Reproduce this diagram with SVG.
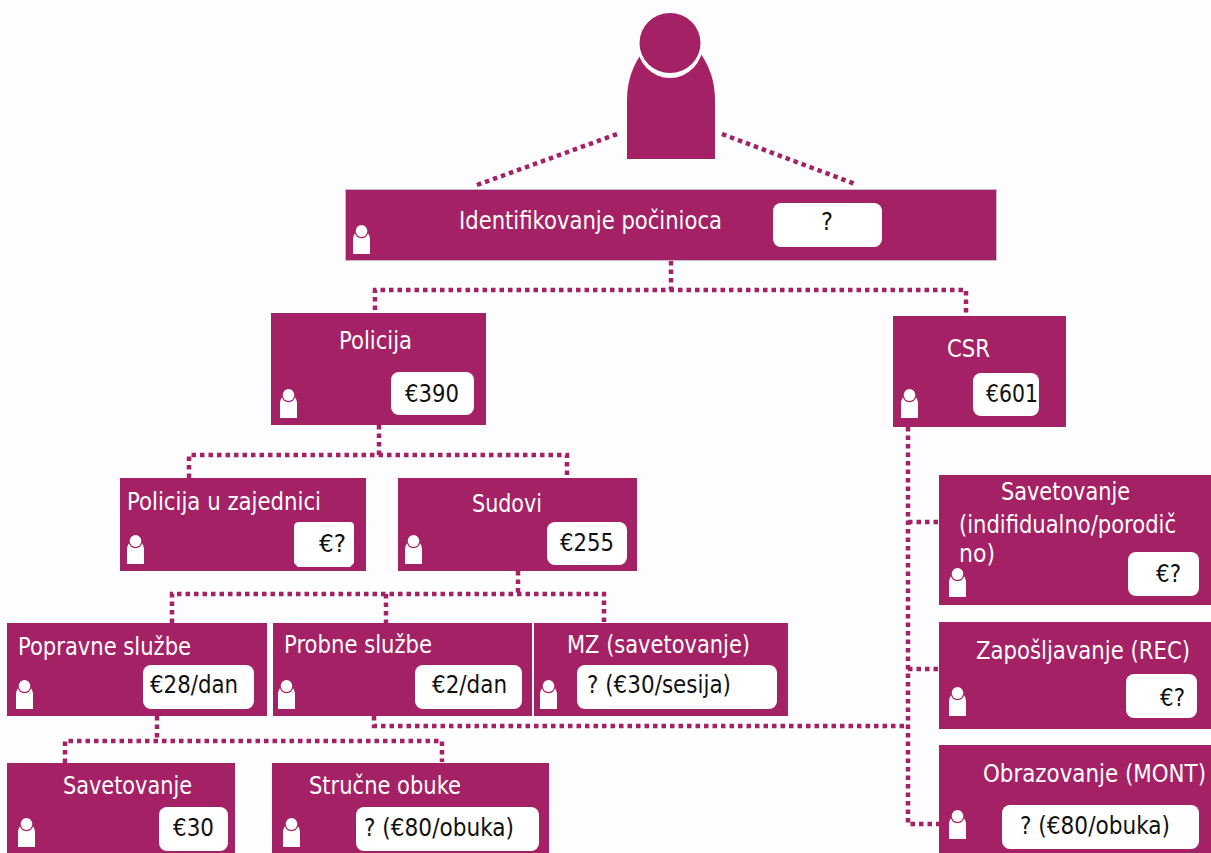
<svg xmlns="http://www.w3.org/2000/svg" width="1211" height="853" viewBox="0 0 1211 853">
<style>
.n{fill:#a52166}
.w{fill:#fff}
.c{fill:none;stroke:#a52166;stroke-width:4.500;stroke-dasharray:4.500 4}
text{font-family:"DejaVu Sans","Noto Sans",sans-serif;font-size:24px}
.l{fill:#fff}
.v{fill:#111}
.t{font-size:20px}
</style>
<defs>
<g id="p"><path class="w" d="M0 29V15Q0 10 3 7H14Q17 10 17 15V29Z"/><ellipse cx="8.500" cy="6.300" rx="6.800" ry="7" class="n"/><ellipse cx="8.500" cy="6" rx="5.800" ry="6" fill="#fff"/></g>
</defs>
<rect width="1211" height="853" fill="#fdfdff"/>
<g id="connectors">
<path class="c" d="M477 185L620 133M722 134L855 184"/>
<path class="c" d="M671 261V290M375 310V290H966V316"/>
<path class="c" d="M379 425V455M189 478V455H567V475"/>
<path class="c" d="M518 571V594M172 623V594H604V623M386 594V623"/>
<path class="c" d="M374 716V726H908"/>
<path class="c" d="M157 716V741M65 763V741H442V762"/>
<path class="c" d="M908 427V824H939M908 522H939M908 669H939"/>
</g>
<g id="perpetrator"><path class="n" d="M627 159V100Q627 72 644 50L698 50Q715 72 715 100V159Z"/><ellipse cx="670" cy="44" rx="33" ry="34" fill="#fff"/><ellipse cx="670" cy="43" rx="30.500" ry="30" class="n"/></g>
<g id="n1"><rect x="345.500" y="189.500" width="651" height="71" class="n" stroke="#c8b8d4"/><use href="#p" x="353" y="225"/><text class="l" x="459" y="229" textLength="263" lengthAdjust="spacingAndGlyphs">Identifikovanje počinioca</text><rect x="773" y="203" width="109" height="44" rx="8" class="w"/><text class="v" x="821" y="230" textLength="12" lengthAdjust="spacingAndGlyphs">?</text></g>
<g id="n2"><rect x="271" y="313" width="215" height="112" class="n"/><use href="#p" x="280" y="389"/><text class="l" x="339" y="349" textLength="73" lengthAdjust="spacingAndGlyphs">Policija</text><rect x="391" y="372" width="83" height="43" rx="8" class="w"/><text class="v" x="405" y="402" textLength="54" lengthAdjust="spacingAndGlyphs">€390</text></g>
<g id="n3"><rect x="893" y="316" width="173" height="111" class="n"/><use href="#p" x="901" y="389"/><text class="l" x="947" y="357" textLength="43" lengthAdjust="spacingAndGlyphs">CSR</text><rect x="973" y="373" width="66" height="43" rx="8" class="w"/><text class="v" x="986" y="402" textLength="52" lengthAdjust="spacingAndGlyphs">€601</text></g>
<g id="n4"><rect x="120" y="478" width="246" height="93" class="n"/><use href="#p" x="127" y="535"/><text class="l" x="127" y="510" textLength="194" lengthAdjust="spacingAndGlyphs">Policija u zajednici</text><path class="w" d="M299 522H350Q354 522 354 526V563L350 567H298L294 563V527Q294 522 299 522Z"/><text class="v" x="319" y="552" textLength="27" lengthAdjust="spacingAndGlyphs">€?</text></g>
<g id="n5"><rect x="398" y="478" width="239" height="93" class="n"/><use href="#p" x="405" y="535"/><text class="l" x="472" y="512" textLength="70" lengthAdjust="spacingAndGlyphs">Sudovi</text><rect x="547" y="522" width="80" height="43" rx="8" class="w"/><text class="v" x="560" y="551" textLength="54" lengthAdjust="spacingAndGlyphs">€255</text></g>
<g id="n6"><rect x="7" y="623" width="260" height="93" class="n"/><use href="#p" x="16" y="680"/><text class="l" x="18" y="655" textLength="173" lengthAdjust="spacingAndGlyphs">Popravne službe</text><rect x="143" y="665" width="111" height="44" rx="8" class="w"/><text class="v" x="150" y="693" textLength="88" lengthAdjust="spacingAndGlyphs">€28/dan</text></g>
<g id="n7"><rect x="273" y="623" width="259" height="93" class="n"/><use href="#p" x="278" y="680"/><text class="l" x="284" y="653" textLength="148" lengthAdjust="spacingAndGlyphs">Probne službe</text><rect x="415" y="665" width="107" height="44" rx="8" class="w"/><text class="v" x="432" y="693" textLength="75" lengthAdjust="spacingAndGlyphs">€2/dan</text></g>
<g id="n8"><rect x="534" y="623" width="254" height="93" class="n"/><use href="#p" x="540" y="680"/><text class="l" x="567" y="653" textLength="183" lengthAdjust="spacingAndGlyphs">MZ (savetovanje)</text><rect x="577" y="665" width="200" height="44" rx="8" class="w"/><text class="v" x="587" y="693" textLength="144" lengthAdjust="spacingAndGlyphs">? (€30/sesija)</text></g>
<g id="n9"><rect x="7" y="763" width="228" height="90" class="n"/><use href="#p" x="18" y="818"/><text class="l" x="63" y="794" textLength="129" lengthAdjust="spacingAndGlyphs">Savetovanje</text><rect x="159" y="807" width="69" height="44" rx="8" class="w"/><text class="v" x="173" y="836" textLength="41" lengthAdjust="spacingAndGlyphs">€30</text></g>
<g id="n10"><rect x="272" y="763" width="277" height="90" class="n"/><use href="#p" x="283" y="818"/><text class="l" x="309" y="794" textLength="152" lengthAdjust="spacingAndGlyphs">Stručne obuke</text><rect x="356" y="807" width="183" height="44" rx="8" class="w"/><text class="v" x="364" y="836" textLength="150" lengthAdjust="spacingAndGlyphs">? (€80/obuka)</text></g>
<g id="n11"><rect x="939" y="475" width="272" height="130" class="n"/><use href="#p" x="949" y="568"/><text class="l" x="1001" y="500" textLength="129" lengthAdjust="spacingAndGlyphs">Savetovanje</text><text class="l" x="959" y="533" textLength="217" lengthAdjust="spacingAndGlyphs">(indifidualno/porodič</text><text class="l" x="959" y="562" textLength="36" lengthAdjust="spacingAndGlyphs">no)</text><rect x="1128" y="552" width="71" height="44" rx="8" class="w"/><text class="v" x="1156" y="582" textLength="25" lengthAdjust="spacingAndGlyphs">€?</text></g>
<g id="n12"><rect x="939" y="622" width="272" height="107" class="n"/><use href="#p" x="949" y="687"/><text class="l t" transform="translate(976 659) scale(1 1.2)" textLength="214" lengthAdjust="spacingAndGlyphs">Zapošljavanje (REC)</text><rect x="1126" y="674" width="71" height="44" rx="8" class="w"/><text class="v" x="1160" y="706" textLength="25" lengthAdjust="spacingAndGlyphs">€?</text></g>
<g id="n13"><rect x="939" y="745" width="272" height="108" class="n"/><use href="#p" x="949" y="810"/><text class="l t" transform="translate(983 782) scale(1 1.2)" textLength="223" lengthAdjust="spacingAndGlyphs">Obrazovanje (MONT)</text><rect x="1002" y="805" width="197" height="44" rx="8" class="w"/><text class="v" x="1020" y="834" textLength="150" lengthAdjust="spacingAndGlyphs">? (€80/obuka)</text></g>
</svg>
